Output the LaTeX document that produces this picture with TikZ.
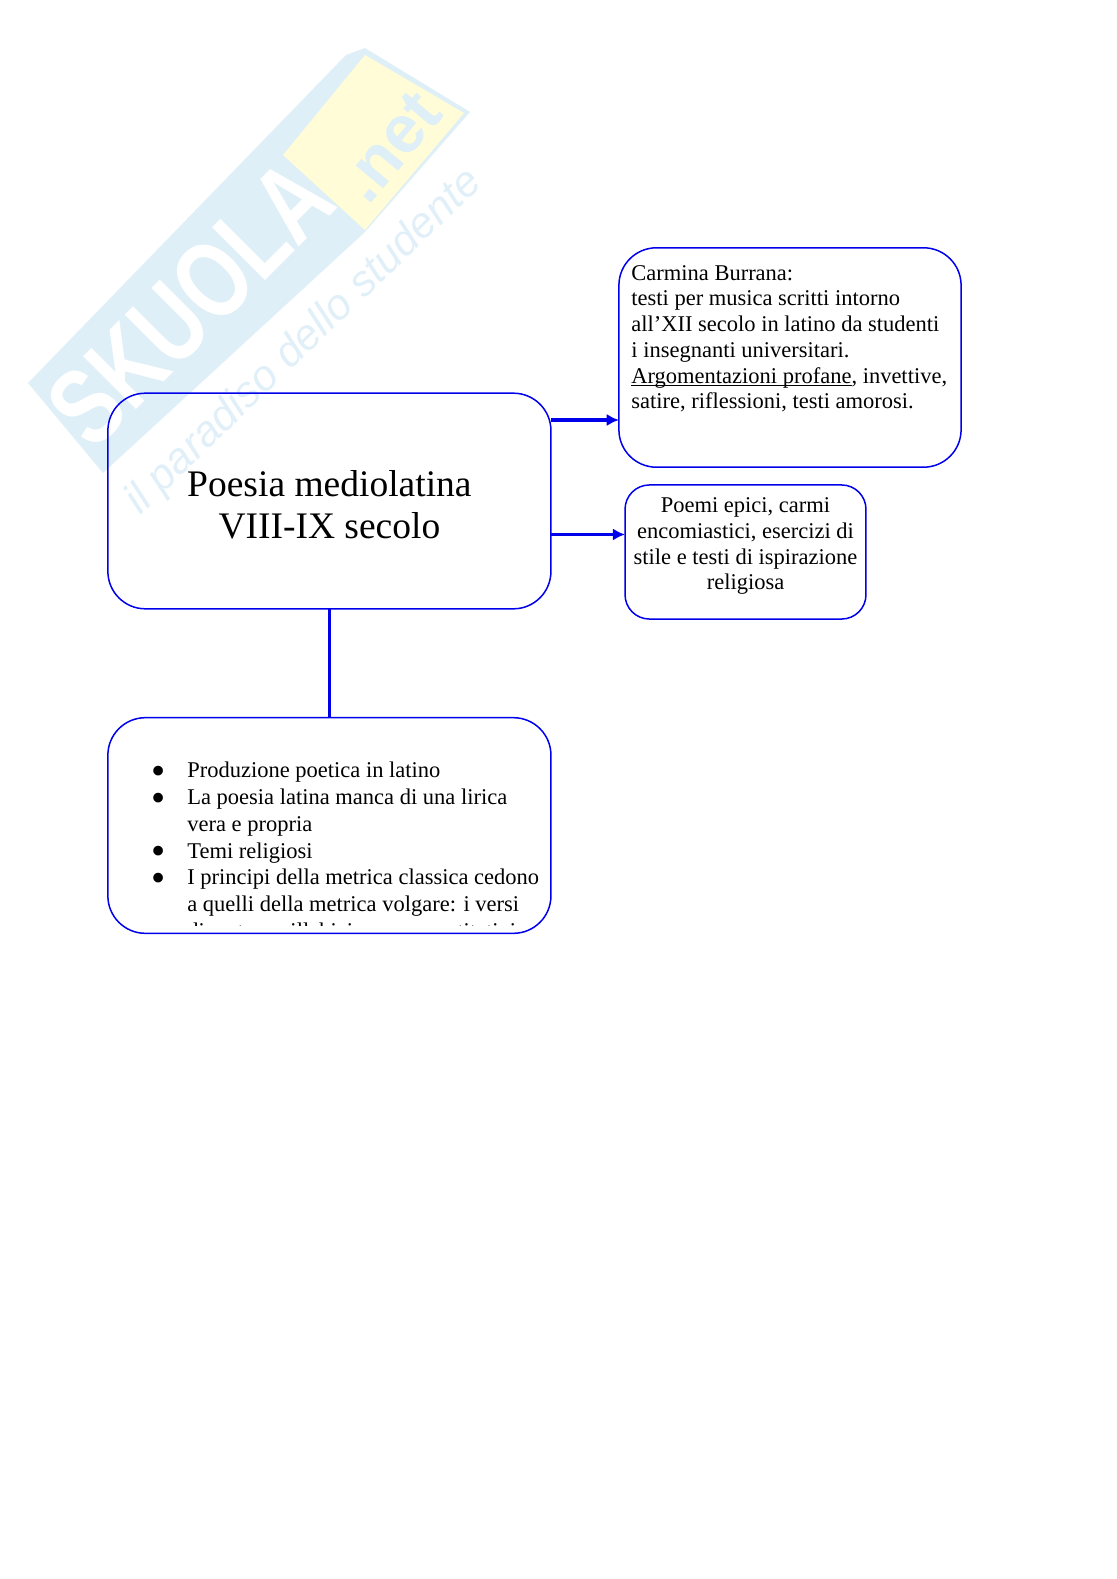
\documentclass[tikz,border=0pt]{standalone}
\usepackage{fontspec}
\setmainfont{Liberation Serif}
\newfontfamily\wmfont{Liberation Sans}
\definecolor{boxblue}{RGB}{0,0,235}
\definecolor{wmblue}{RGB}{222,239,247}
\definecolor{wmyellow}{RGB}{255,252,215}
\definecolor{wmtext}{RGB}{225,240,248}
\newcommand{\listdot}{\makebox[19.2pt][l]{\raisebox{-3.4pt}{\scalebox{1.8}{\textbullet}}}}
\newcommand{\listgap}{\hspace*{19.2pt}}
\usetikzlibrary{arrows.meta}
\tikzset{
    roundbox/.style={draw=boxblue,line width=0.8pt,rounded corners=#1,inner sep=0pt,outer sep=0pt},
    flow/.style={draw=boxblue,line width=2pt},
    flowtip/.style={flow,-{Latex[length=6.5pt,width=6.5pt]}}
}
\begin{document}
\begin{tikzpicture}[x=0.53333pt,y=-0.53333pt]
    \useasboundingbox (0,0) rectangle (1116,1579);

    % Watermark
    \fill[wmblue] (28,383) -- (346,55) -- (365,48) -- (470,112) -- (365,232) -- (103,473) -- cycle;
    \fill[wmyellow] (365,55) -- (464,113) -- (365,230) -- (283,155) -- cycle;
    \node[white,rotate=45,font=\wmfont\bfseries\fontsize{58}{58}\selectfont] (wmname) at (190,303) {\scalebox{0.76}[1]{SKUOLA}};
    \node[wmblue,rotate=50,font=\wmfont\bfseries\fontsize{36}{36}\selectfont] (wmnet) at (390,147) {.net};
    \node[wmtext,rotate=44,font=\wmfont\itshape\fontsize{23}{23}\selectfont] (wmslogan) at (304,342) {il paradiso dello studente};

    % Main box
    \node[roundbox=20pt,minimum width=236.3pt,minimum height=115pt] (main) at (329.4,501) {};
    \node[align=center,font=\fontsize{20}{22.5}\selectfont] (maintext) at (329.4,505) {Poesia mediolatina\\VIII-IX secolo};

    % Carmina Burana
    \node[roundbox=20pt,minimum width=182.5pt,minimum height=117pt] (carmina) at (790,357.5) {};
    \node[anchor=north west,align=left,inner sep=0pt,font=\fontsize{12}{13.7}\selectfont] (carminatext) at (631,265) {Carmina Burrana:\\testi per musica scritti intorno\\all’XII secolo in latino da studenti\\i insegnanti universitari.\\\underline{\smash{Argomentazioni profane}}, invettive,\\satire, riflessioni, testi amorosi.};

    % Poemi
    \node[roundbox=13pt,minimum width=128.5pt,minimum height=71.5pt] (poemi) at (745.5,552) {};
    \node[anchor=north,align=center,inner sep=0pt,font=\fontsize{12}{13.7}\selectfont] (poemitext) at (745.5,497.5) {Poemi epici, carmi\\encomiastici, esercizi di\\stile e testi di ispirazione\\religiosa};

    % Caratteri
    \node[roundbox=20pt,minimum width=236.3pt,minimum height=115pt] (temi) at (329.4,825.5) {};
    \begin{scope}
        \clip (108,700) rectangle (552,925);
        \node[anchor=north west,align=left,inner sep=0pt,font=\fontsize{12}{14.25}\selectfont] (temitext) at (151,762) {\listdot Produzione poetica in latino\\\listdot La poesia latina manca di una lirica\\\listgap vera e propria\\\listdot Temi religiosi\\\listdot I principi della metrica classica cedono\\\listgap a quelli della metrica volgare: i versi\\\listgap diventano sillabici e non quantitativi};
    \end{scope}

    % Connectors
    \coordinate (upper) at (585,420);
    \coordinate (lower) at (585,534.5);
    \draw[flowtip] (main.east |- upper) -- (carmina.west |- upper);
    \draw[flowtip] (main.east |- lower) -- (poemi.west |- lower);
    \draw[flow] (main.south) -- (temi.north);
\end{tikzpicture}
\end{document}
